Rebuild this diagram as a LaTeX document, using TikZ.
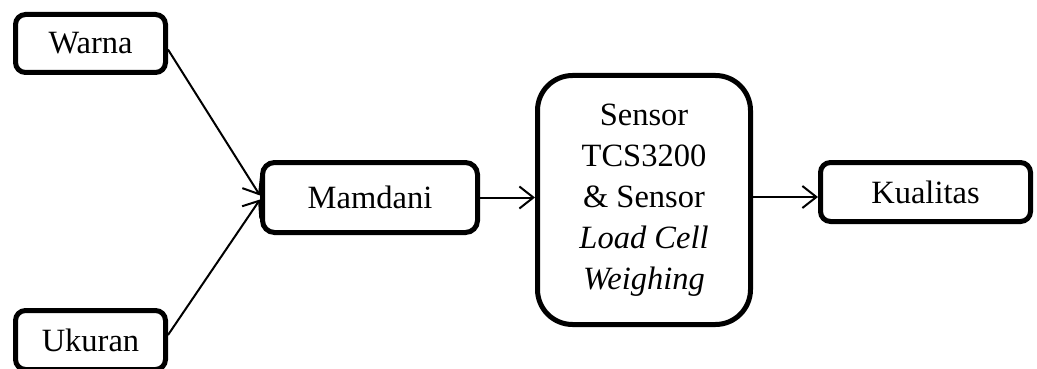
\documentclass[tikz,border=0pt]{standalone}
\usepackage{fontspec}
\setmainfont{Liberation Serif}
\usetikzlibrary{arrows.meta}
\begin{document}
\begin{tikzpicture}[x=1pt,y=-1pt,
  box/.style={draw, line width=5pt, fill=white, inner sep=0pt, font=\fontsize{32.5}{41}\selectfont, align=center},
  conn/.style={line width=2pt, -{Straight Barb[length=14pt,width=22pt,line width=2pt]}}]
\useasboundingbox (0,0) rectangle (1037,369);
\node[box, rounded corners=10pt, minimum width=150pt, minimum height=58pt] (warna) at (90.5,43.5) {Warna};
\node[box, rounded corners=10pt, minimum width=150pt, minimum height=59pt] (ukuran) at (90.5,340) {Ukuran};
\node[box, rounded corners=12pt, minimum width=215pt, minimum height=70pt] (mamdani) at (370,197.5) {Mamdani};
\node[box, rounded corners=35pt, minimum width=213pt, minimum height=249pt] (sensor) at (644,200) {Sensor\\TCS3200\\\& Sensor\\\textit{Load Cell}\\\textit{Weighing}};
\node[box, rounded corners=10pt, minimum width=210pt, minimum height=59pt] (kualitas) at (925.5,192) {Kualitas};
\draw[conn] ([yshift=-6pt]warna.east) -- ([yshift=2pt]mamdani.west);
\draw[conn] ([yshift=5pt]ukuran.east) -- ([yshift=-2pt]mamdani.west);
\draw[conn] (mamdani.east) -- (mamdani.east -| sensor.west);
\draw[conn] ([yshift=3pt]sensor.east) -- ([yshift=3pt]sensor.east -| kualitas.west);
\end{tikzpicture}
\end{document}
